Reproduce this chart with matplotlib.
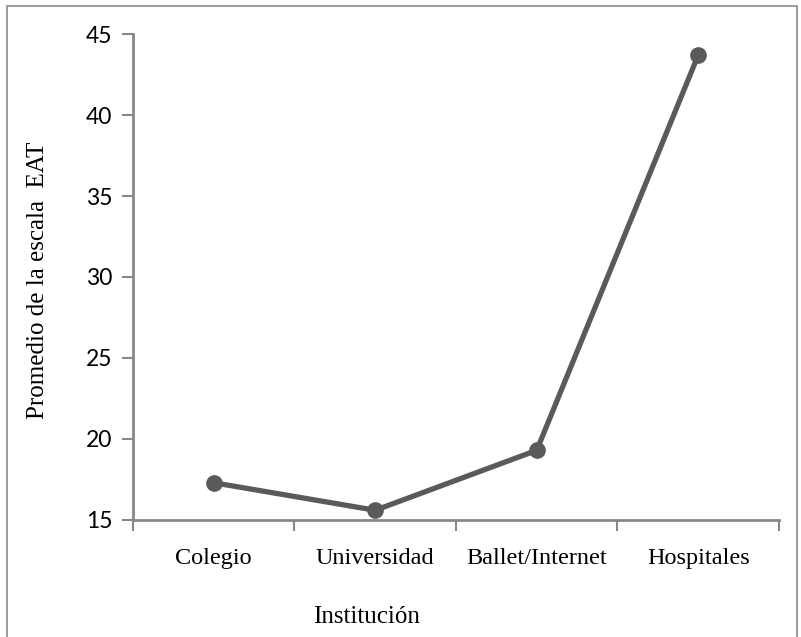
import numpy as np
import matplotlib
matplotlib.use('Agg')
import matplotlib.pyplot as plt
from matplotlib.patches import Rectangle

# Data
categories = ['Colegio', 'Universidad', 'Ballet/Internet', 'Hospitales']
eat_means = [17.3, 15.6, 19.3, 43.7]
y_ticks = [15, 20, 25, 30, 35, 40, 45]

LINE_COLOR = '#5a5a5a'
SPINE_COLOR = '#878787'
SERIF = 'Liberation Serif'

fig = plt.figure(figsize=(8.01, 6.37), dpi=100)
ax = fig.add_axes([0.166, 0.1837, 0.8065, 0.7629])

x = np.arange(len(categories))
ax.plot(x, eat_means, color=LINE_COLOR, linewidth=3.8, marker='o',
        markersize=11, solid_capstyle='round', zorder=3)

ax.set_xlim(-0.5, len(categories) - 0.5)
ax.set_ylim(15, 45)
ax.set_yticks(y_ticks)
ax.set_yticklabels([str(v) for v in y_ticks], fontsize=16.5, family='Lato')

# category labels centered, tick marks at boundaries
ax.set_xticks(x)
ax.set_xticklabels(categories, fontsize=17.5, family=SERIF)
ax.tick_params(axis='x', which='major', length=0, pad=20)
ax.set_xticks(np.arange(-0.5, len(categories)), minor=True)
ax.tick_params(axis='x', which='minor', length=8, width=1.5, color=SPINE_COLOR)
ax.tick_params(axis='y', length=8, width=1.5, color=SPINE_COLOR, pad=7)

for side in ['top', 'right']:
    ax.spines[side].set_visible(False)
for side in ['left', 'bottom']:
    ax.spines[side].set_color(SPINE_COLOR)
    ax.spines[side].set_linewidth(2)

fig.text(0.047, 0.56, 'Promedio de la escala  EAT', rotation=90,
         ha='center', va='center', fontsize=18, family=SERIF)
fig.text(0.457, 0.031, 'Institución', ha='center', va='center',
         fontsize=18, family=SERIF)

# thin gray frame around the whole chart
fig.patches.append(Rectangle((0.009, -0.01), 0.986, 1.0, transform=fig.transFigure,
                             fill=False, edgecolor='#8a8a8a', linewidth=1.2))

fig.savefig('out.png', dpi=100)
